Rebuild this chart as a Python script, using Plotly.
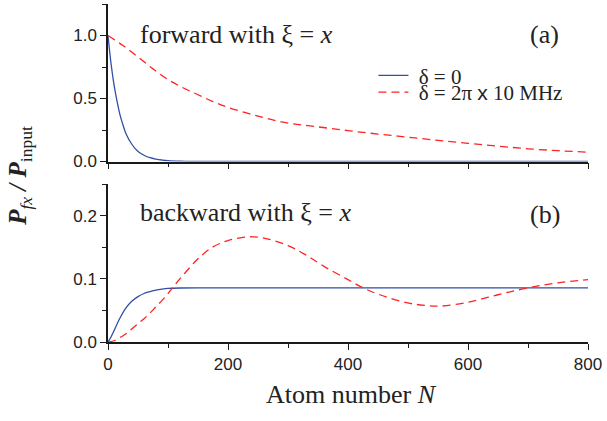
import plotly.graph_objects as go

# ---- data ----
N_fwd_blue = [0, 5, 10, 15, 20, 25, 30, 40, 50, 60, 70, 80, 90, 100, 120, 150, 200, 250, 300, 400, 500, 600, 700, 800]
P_fwd_blue = [1.0, 0.78, 0.61, 0.48, 0.37, 0.29, 0.22, 0.135, 0.08, 0.05, 0.03, 0.019, 0.012, 0.007, 0.003, 0.001, 0.0, 0.0, 0.0, 0.0, 0.0, 0.0, 0.0, 0.0]

N_fwd_red = [0, 25, 50, 75, 100, 125, 150, 175, 200, 250, 300, 350, 400, 450, 500, 550, 600, 650, 700, 750, 800]
P_fwd_red = [1.0, 0.92, 0.83, 0.735, 0.65, 0.585, 0.53, 0.475, 0.43, 0.36, 0.305, 0.275, 0.245, 0.218, 0.193, 0.168, 0.144, 0.122, 0.101, 0.086, 0.074]

N_bwd_blue = [0, 5, 10, 20, 30, 40, 50, 60, 70, 80, 90, 100, 120, 150, 200, 400, 600, 800]
P_bwd_blue = [0.0, 0.008, 0.018, 0.038, 0.054, 0.065, 0.072, 0.077, 0.08, 0.0825, 0.084, 0.085, 0.0857, 0.086, 0.086, 0.086, 0.086, 0.086]

N_bwd_red = [0, 10, 20, 30, 40, 50, 60, 70, 80, 90, 100, 110, 125, 150, 175, 200, 225, 240, 260, 300, 330, 360, 400, 425, 450, 500, 530, 555, 600, 650, 700, 750, 800]
P_bwd_red = [0.0, 0.002, 0.007, 0.013, 0.021, 0.029, 0.037, 0.046, 0.056, 0.066, 0.077, 0.089, 0.106, 0.132, 0.151, 0.161, 0.166, 0.167, 0.165, 0.153, 0.138, 0.12, 0.099, 0.086, 0.076, 0.062, 0.058, 0.057, 0.063, 0.075, 0.086, 0.094, 0.099]

x_ticks = [0, 200, 400, 600, 800]
x_ticklabels = ["0", "200", "400", "600", "800"]
y1_ticks = [0.0, 0.5, 1.0]
y1_ticklabels = ["0.0", "0.5", "1.0"]
y2_ticks = [0.0, 0.1, 0.2]
y2_ticklabels = ["0.0", "0.1", "0.2"]

legend_labels = ["\u00a0δ = 0", "\u00a0δ = 2π <span style=\"font-family:'Liberation Sans', Arial\">x</span> 10 MHz"]

BLUE = "#2f4fa8"
RED = "#ff2222"
SERIF = "Liberation Serif, Times New Roman, serif"
SANS = "Liberation Sans, Arial, sans-serif"
AX = "#1a1a1a"

fig = go.Figure()
fig.add_trace(go.Scatter(x=N_fwd_blue, y=P_fwd_blue, mode="lines", line=dict(color=BLUE, width=1.3, shape="spline"),
                         name=legend_labels[0], xaxis="x", yaxis="y", legend="legend"))
fig.add_trace(go.Scatter(x=N_fwd_red, y=P_fwd_red, mode="lines", line=dict(color=RED, width=1.3, dash="8px,5px", shape="spline"),
                         name=legend_labels[1], xaxis="x", yaxis="y", legend="legend2"))
fig.add_trace(go.Scatter(x=N_bwd_blue, y=P_bwd_blue, mode="lines", line=dict(color=BLUE, width=1.3, shape="spline"),
                         showlegend=False, xaxis="x2", yaxis="y2"))
fig.add_trace(go.Scatter(x=N_bwd_red, y=P_bwd_red, mode="lines", line=dict(color=RED, width=1.3, dash="8px,5px", shape="spline"),
                         showlegend=False, xaxis="x2", yaxis="y2"))

axis_common = dict(showgrid=False, zeroline=False, showline=True, linecolor=AX, linewidth=1.5,
                   ticks="outside", ticklen=6, tickwidth=1.3, tickcolor=AX,
                   tickfont=dict(family=SANS, size=17, color="#222"))
minor_x = dict(dtick=100, tick0=0, ticks="outside", ticklen=4, tickcolor=AX, tickwidth=1.2)

fig.update_layout(
    width=607, height=421,
    margin=dict(l=108, r=19, t=4, b=79),
    plot_bgcolor="white", paper_bgcolor="white",
    xaxis=dict(domain=[0, 1], anchor="y", range=[0, 800], tickvals=x_ticks, showticklabels=False,
               minor=minor_x, **axis_common),
    yaxis=dict(domain=[0.534, 1], anchor="x", range=[0, 1.25], tickvals=y1_ticks, ticktext=y1_ticklabels,
               minor=dict(dtick=0.25, tick0=0, ticks="outside", ticklen=4, tickcolor=AX, tickwidth=1.2),
               **axis_common),
    xaxis2=dict(domain=[0, 1], anchor="y2", range=[0, 800], tickvals=x_ticks, ticktext=x_ticklabels,
                minor=minor_x, **axis_common),
    yaxis2=dict(domain=[0, 0.466], anchor="x2", range=[0, 0.25], tickvals=y2_ticks, ticktext=y2_ticklabels,
                minor=dict(dtick=0.05, tick0=0, ticks="outside", ticklen=4, tickcolor=AX, tickwidth=1.2),
                **axis_common),
    legend=dict(x=0.553, y=0.788, xanchor="left", yanchor="middle", bgcolor="rgba(0,0,0,0)",
                font=dict(family=SERIF, size=21, color="#222"), itemwidth=30, borderwidth=0),
    legend2=dict(x=0.553, y=0.738, xanchor="left", yanchor="middle", bgcolor="rgba(0,0,0,0)",
                 font=dict(family=SERIF, size=21, color="#222"), itemwidth=30, borderwidth=0),
    showlegend=True,
)

ann_font = dict(family=SERIF, size=26, color="#222")
fig.add_annotation(text="forward with ξ = <i>x</i>", xref="paper", yref="paper", x=0.0625, y=0.909,
                   xanchor="left", yanchor="middle", showarrow=False, font=ann_font)
fig.add_annotation(text="(a)", xref="paper", yref="paper", x=0.874, y=0.909,
                   xanchor="left", yanchor="middle", showarrow=False, font=ann_font)
fig.add_annotation(text="backward with ξ = <i>x</i>", xref="paper", yref="paper", x=0.0625, y=0.3825,
                   xanchor="left", yanchor="middle", showarrow=False, font=ann_font)
fig.add_annotation(text="(b)", xref="paper", yref="paper", x=0.874, y=0.3766,
                   xanchor="left", yanchor="middle", showarrow=False, font=ann_font)
fig.add_annotation(text="Atom number <i>N</i>", xref="paper", yref="paper", x=0.508, y=-0.156,
                   xanchor="center", yanchor="middle", showarrow=False, font=ann_font)
fig.add_annotation(text="<b><i>P</i></b><sub><i>fx</i></sub><b><i> / P</i></b><sub>input</sub>",
                   xref="paper", yref="paper", x=-0.183, y=0.492, textangle=-90,
                   xanchor="center", yanchor="middle", showarrow=False,
                   font=dict(family=SERIF, size=25, color="#222"))

fig.write_html("out.html", config={"displayModeBar": False},
               post_script="document.body.style.margin='0px';")
